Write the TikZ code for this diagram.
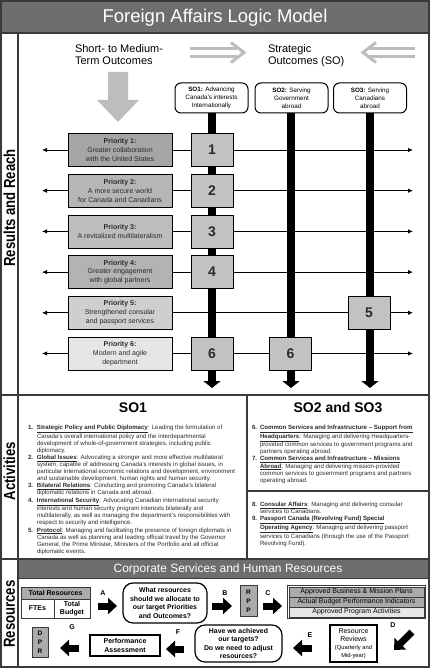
\documentclass[tikz,border=0pt]{standalone}
\usepackage{graphicx}
\usepackage{fontspec}
\setmainfont{Liberation Sans}
\usetikzlibrary{arrows.meta}
\definecolor{titlegray}{HTML}{6E6E6E}
\definecolor{framegray}{HTML}{3A3A3A}
\definecolor{pone}{HTML}{A6A6A6}
\definecolor{ptwo}{HTML}{B6B6B6}
\definecolor{pthree}{HTML}{BDBDBD}
\definecolor{pfour}{HTML}{B3B3B3}
\definecolor{pfive}{HTML}{CFCFCF}
\definecolor{psix}{HTML}{E6E6E6}
\definecolor{numgray}{HTML}{C2C2C2}
\definecolor{lightarrow}{HTML}{BDBDBD}
\definecolor{txt}{HTML}{2A2A2A}
\definecolor{graycell}{HTML}{ABABAB}
\newcommand{\NumItem}[2][9pt]{\makebox[#1][l]{\textbf{#2}}}
\newcommand{\IndentLine}[1][9pt]{\hspace*{#1}}
\newcommand{\ULB}[1]{\underline{\textbf{#1}}}
\newcommand{\Narrow}[1]{\scalebox{0.82}[1]{#1}}
\begin{document}
\begin{tikzpicture}[x=1pt,y=-1pt,every node/.style={inner sep=0pt,outer sep=0pt}]
\tikzset{
 prio/.style={draw=black,line width=0.8pt,minimum width=104pt,minimum height=33pt,align=center,font=\fontsize{7}{8.8}\selectfont,text=txt},
 numbox/.style={draw=black,line width=0.8pt,fill=numgray,minimum width=42pt,minimum height=33pt,font=\fontsize{14}{14}\selectfont\bfseries,text=txt},
 sobox/.style={draw=black,line width=1pt,rounded corners=6pt,fill=white,minimum width=73pt,minimum height=30pt,align=center,font=\fontsize{6.3}{7.8}\selectfont},
 sobar/.style={line width=8pt,arrows={-Triangle[width=17pt,length=7pt]}},
 rowline/.style={draw=black,line width=0.9pt,arrows={Latex[length=5pt,width=4.5pt]-Latex[length=5pt,width=4.5pt]}},
 sidelabel/.style={rotate=90,font=\fontsize{16}{16}\selectfont\bfseries},
 blockarrow/.style={line width=7pt,arrows={-Triangle[width=16pt,length=9pt]}},
 letterlabel/.style={font=\fontsize{7}{7}\selectfont\bfseries},
 question/.style={draw=black,line width=1.2pt,rounded corners=10pt,fill=white,align=center,font=\fontsize{6.9}{8.4}\selectfont\bfseries},
 plainbox/.style={draw=black,line width=1.2pt,fill=white,align=center},
 stackrow/.style={draw=framegray,line width=0.8pt,minimum width=135pt,minimum height=10pt,font=\fontsize{7}{7}\selectfont},
 graybox/.style={draw=framegray,line width=1pt,fill=graycell,align=center,font=\fontsize{6.5}{9}\selectfont\bfseries},
 cell/.style={draw=framegray,line width=0.9pt,align=center,font=\fontsize{7}{8.3}\selectfont\bfseries},
 actlist/.style={anchor=north west,align=left,font=\fontsize{6.1}{7.1}\selectfont,text=txt},
 sohead/.style={font=\fontsize{14}{14}\selectfont\bfseries},
 headtext/.style={anchor=north west,align=left,font=\fontsize{11}{12}\selectfont},
}
\useasboundingbox (0,0) rectangle (430,668);
% title bar and frame
\fill[titlegray] (1,1) rectangle (429,33);
\node[font=\fontsize{18.5}{20}\selectfont,text=white] (title) at (215,17.5) {Foreign Affairs Logic Model};
\fill[titlegray] (18,560) rectangle (429,578);
\draw[framegray,line width=1pt] (18,578) -- (429,578);
\node[font=\fontsize{12}{13}\selectfont,text=white] (corp) at (228,569.5) {Corporate Services and Human Resources};
\draw[framegray,line width=2pt] (1,1) rectangle (429,667);
\draw[framegray,line width=1.5pt] (1,33) -- (429,33);
\draw[framegray,line width=1.2pt] (18,33) -- (18,667);
\draw[framegray,line width=1.5pt] (1,395) -- (429,395);
\draw[framegray,line width=1.5pt] (1,559) -- (429,559);
\draw[framegray,line width=1.2pt] (247,395) -- (247,559);
\draw[framegray,line width=1.2pt] (247,491) -- (429,491);
% side labels
\node[sidelabel] (labrr) at (9.5,208) {\Narrow{Results and Reach}};
\node[sidelabel] (labact) at (9.5,471) {\Narrow{Activities}};
\node[sidelabel] (labres) at (9.5,614) {\Narrow{Resources}};
% headings
\node[headtext] (smo) at (75,45) {Short- to Medium-\\Term Outcomes};
\node[headtext] (strat) at (268,45) {Strategic\\Outcomes (SO)};
\begin{scope}[lightarrow,line width=3pt]
 \draw (190,48.5) -- (237,48.5);
 \draw (190,56.5) -- (237,56.5);
 \draw[line join=miter] (231,42.5) -- (244,52.5) -- (231,62.5);
 \draw (415,48.5) -- (369,48.5);
 \draw (415,56.5) -- (369,56.5);
 \draw[line join=miter] (376,42.5) -- (363,52.5) -- (376,62.5);
\end{scope}
\fill[lightarrow] (108,72) -- (128,72) -- (128,100) -- (139,100) -- (118,122) -- (97,100) -- (108,100) -- cycle;
% SO boxes
\node[sobox] (so1) at (211.5,98) {\textbf{SO1:} Advancing\\Canada's interests\\Internationally};
\node[sobox] (so2) at (291.5,98) {\textbf{SO2:} Serving\\Government\\abroad};
\node[sobox] (so3) at (370,98) {\textbf{SO3:} Serving\\Canadians\\abroad};
% row lines
\coordinate (l1) at (42,150);   \coordinate (r1) at (413,150);
\coordinate (l2) at (42,190.7); \coordinate (r2) at (413,190.7);
\coordinate (l3) at (42,231.4); \coordinate (r3) at (413,231.4);
\coordinate (l4) at (42,272.1); \coordinate (r4) at (413,272.1);
\coordinate (l5) at (42,312.8); \coordinate (r5) at (413,312.8);
\coordinate (l6) at (42,353.5); \coordinate (r6) at (413,353.5);
\draw[rowline] (l1) -- (r1);
\draw[rowline] (l2) -- (r2);
\draw[rowline] (l3) -- (r3);
\draw[rowline] (l4) -- (r4);
\draw[rowline] (l5) -- (r5);
\draw[rowline] (l6) -- (r6);
% bars
\coordinate (e1) at (212,388);
\coordinate (e2) at (291,388);
\coordinate (e3) at (370,388);
\draw[sobar] (so1.south -| e1) -- (e1);
\draw[sobar] (so2.south -| e2) -- (e2);
\draw[sobar] (so3.south -| e3) -- (e3);
% priorities
\node[prio,fill=pone] (p1) at (120,150) {\textbf{Priority 1:}\\Greater collaboration\\with the United States};
\node[prio,fill=ptwo] (p2) at (120,190.7) {\textbf{Priority 2:}\\A more secure world\\for Canada and Canadians};
\node[prio,fill=pthree] (p3) at (120,231.4) {\textbf{Priority 3:}\\A revitalized multilateralism};
\node[prio,fill=pfour] (p4) at (120,272.1) {\textbf{Priority 4:}\\Greater engagement\\with global partners};
\node[prio,fill=pfive] (p5) at (120,312.8) {\textbf{Priority 5:}\\Strengthened consular\\and passport services};
\node[prio,fill=psix] (p6) at (120,353.5) {\textbf{Priority 6:}\\Modern and agile\\department};
\node[numbox] (n1) at (212,150) {1};
\node[numbox] (n2) at (212,190.7) {2};
\node[numbox] (n3) at (212,231.4) {3};
\node[numbox] (n4) at (212,272.1) {4};
\node[numbox] (n5) at (369,312.8) {5};
\node[numbox] (n6a) at (212,353.5) {6};
\node[numbox] (n6b) at (290.5,353.5) {6};
% activities
\node[sohead] (h1) at (133,408) {SO1};
\node[sohead] (h2) at (338,408) {SO2 and SO3};
\node[actlist] (list1) at (28,425) {%
\NumItem{1.}\ULB{Strategic Policy and Public Diplomacy}: Leading the formulation of\\
\IndentLine Canada's overall international policy and the interdepartmental\\
\IndentLine development of whole-of-government strategies, including public\\
\IndentLine diplomacy.\\
\NumItem{2.}\ULB{Global Issues}: Advocating a stronger and more effective multilateral\\
\IndentLine system, capable of addressing Canada's interests in global issues, in\\
\IndentLine particular international economic relations and development, environment\\
\IndentLine and sustainable development, human rights and human security.\\
\NumItem{3.}\ULB{Bilateral Relations}: Conducting and promoting Canada's bilateral\\
\IndentLine diplomatic relations in Canada and abroad.\\
\NumItem{4.}\ULB{International Security}: Advocating Canadian international security\\
\IndentLine interests and human security program interests bilaterally and\\
\IndentLine multilaterally, as well as managing the department's responsibilities with\\
\IndentLine respect to security and intelligence.\\
\NumItem{5.}\ULB{Protocol}: Managing and facilitating the presence of foreign diplomats in\\
\IndentLine Canada as well as planning and leading official travel by the Governor\\
\IndentLine General, the Prime Minister, Ministers of the Portfolio and all official\\
\IndentLine diplomatic events.};
\node[actlist] (list2) at (252,425) {%
\NumItem[8pt]{6.}\ULB{Common Services and Infrastructure – Support from}\\
\IndentLine[8pt]\ULB{Headquarters}: Managing and delivering Headquarters-\\
\IndentLine[8pt]provided common services to government programs and\\
\IndentLine[8pt]partners operating abroad.\\
\NumItem[8pt]{7.}\ULB{Common Services and Infrastructure – Missions}\\
\IndentLine[8pt]\ULB{Abroad}: Managing and delivering mission-provided\\
\IndentLine[8pt]common services to government programs and partners\\
\IndentLine[8pt]operating abroad.};
\node[actlist] (list3) at (252,502) {%
\NumItem[8pt]{8.}\ULB{Consular Affairs}: Managing and delivering consular\\
\IndentLine[8pt]services to Canadians.\\
\NumItem[8pt]{9.}\ULB{Passport Canada (Revolving Fund) Special}\\
\IndentLine[8pt]\ULB{Operating Agency}: Managing and delivering passport\\
\IndentLine[8pt]services to Canadians (through the use of the Passport\\
\IndentLine[8pt]Revolving Fund).};
% resources
\node[cell,fill=graycell,minimum width=69pt,minimum height=12pt] (totres) at (55.5,593) {Total Resources};
\node[cell,minimum width=33pt,minimum height=19pt] (ftes) at (37.5,608.5) {FTEs};
\node[cell,minimum width=36pt,minimum height=19pt] (budget) at (72,608.5) {Total\\Budget};
\node[question,minimum width=84pt,minimum height=40pt] (q1) at (165,603) {What resources\\should we allocate to\\our target Priorities\\and Outcomes?};
\node[graybox,minimum width=17pt,minimum height=31pt] (rpp) at (248.5,601) {R\\P\\P};
\draw[framegray,line width=1pt] (287.5,585.5) rectangle (425,618.5);
\node[stackrow,fill=graycell] (s1) at (356.5,592) {Approved Business \& Mission Plans};
\node[stackrow,fill=graycell] (s2) at (356.5,602) {Actual Budget Performance Indicators};
\node[stackrow,fill=psix] (s3) at (356.5,612) {Approved Program Activities};
\node[plainbox,minimum width=47pt,minimum height=37pt,font=\fontsize{7}{8}\selectfont] (rr) at (353.5,643.5) {Resource\\Reviews\\{\fontsize{5.8}{8}\selectfont (Quarterly and}\\{\fontsize{5.8}{8}\selectfont Mid-year)}};
\node[question,minimum width=87pt,minimum height=37pt] (q2) at (238.5,643.5) {Have we achieved\\our targets?\\Do we need to adjust\\resources?};
\node[plainbox,minimum width=70pt,minimum height=21pt,font=\fontsize{7}{8.3}\selectfont\bfseries] (pa) at (125,645.5) {Performance\\Assessment};
\node[graybox,minimum width=16pt,minimum height=30pt] (dpr) at (40,642) {D\\P\\R};
% letters
\node[letterlabel] (la) at (103,593) {A};
\node[letterlabel] (lb) at (225,593) {B};
\node[letterlabel] (lc) at (268,593) {C};
\node[letterlabel] (ld) at (393,625) {D};
\node[letterlabel] (le) at (310,635) {E};
\node[letterlabel] (lf) at (178,632) {F};
\node[letterlabel] (lg) at (72,627) {G};
% block arrows
\coordinate (as) at (98,606); \coordinate (ae) at (117,606);
\coordinate (bs) at (212,606); \coordinate (be) at (232,606);
\coordinate (cs) at (263,606); \coordinate (ce) at (282,606);
\coordinate (ds) at (412,632); \coordinate (de) at (394,650);
\coordinate (es) at (312,648); \coordinate (ee) at (293,648);
\coordinate (fs) at (184,649); \coordinate (fe) at (166,649);
\coordinate (gs) at (79,648); \coordinate (ge) at (60,648);
\draw[blockarrow] (as) -- (ae);
\draw[blockarrow] (bs) -- (be);
\draw[blockarrow] (cs) -- (ce);
\draw[blockarrow] (ds) -- (de);
\draw[blockarrow] (es) -- (ee);
\draw[blockarrow] (fs) -- (fe);
\draw[blockarrow] (gs) -- (ge);
\end{tikzpicture}
\end{document}
